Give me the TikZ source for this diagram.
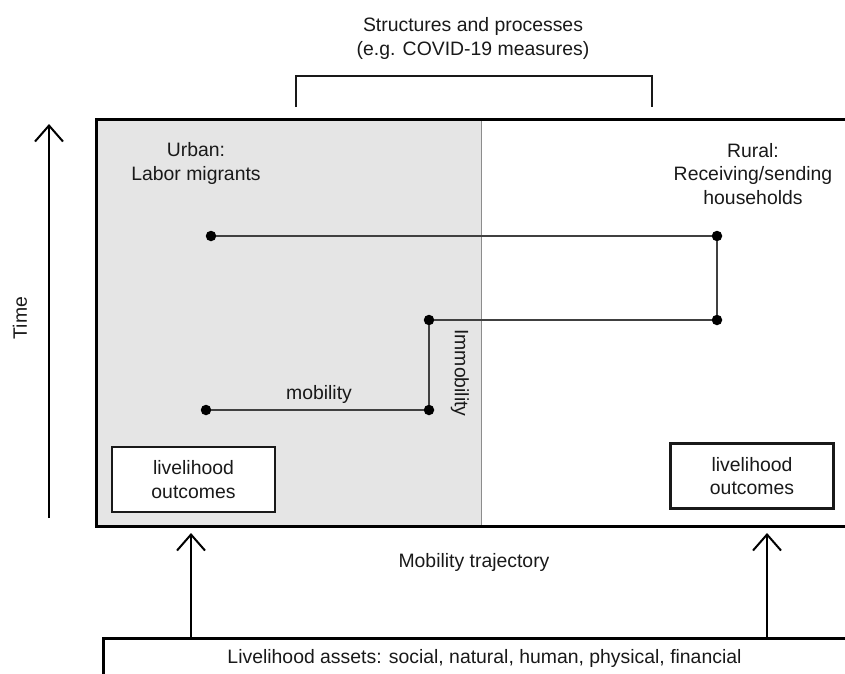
\documentclass[tikz,border=0pt]{standalone}
\usepackage{fontspec}
\setmainfont{Liberation Sans}
\usetikzlibrary{arrows.meta}
\begin{document}
\begin{tikzpicture}[x=1pt,y=-1pt,
  txt/.style={font=\fontsize{19.4}{23.5}\selectfont, text=black!90, inner sep=0pt, align=center},
  dot/.style={circle, fill=black, inner sep=0pt, minimum size=10.5pt},
  conn/.style={line width=1.6pt, draw=black!75},
  outbox/.style={txt, draw=black!90, line width=2.2pt, fill=white,
    minimum width=163pt, minimum height=65pt},
  upbarb/.style={line width=2pt, draw=black,
    -{Straight Barb[length=16pt,width=28pt,line width=2pt]}}]
\useasboundingbox (0,0) rectangle (845,673);
\clip (0,0) rectangle (845,673);

% frame with the shaded urban half and the divider
\fill[gray!20] (96,119) rectangle (481,526);
\draw[gray!90, line width=1pt] (481,119) -- (481,526);
\draw[black, line width=3pt] (96,119) rectangle (870,526);

% heading and bracket
\node[txt, anchor=base] (title1) at (473,31) {Structures and processes};
\node[txt, anchor=base] (title2) at (473,55) {(e.g. COVID-19 measures)};
\draw[black!90, line width=2pt] (296,107) -- (296,76) -- (652,76) -- (652,107);

% time axis
\coordinate (tbot) at (49,518);
\coordinate (ttop) at (49,124);
\draw[upbarb] (tbot) -- (ttop);
\node[txt, rotate=90] (time) at (20,318) {Time};

% area labels (base anchor sits on the last line)
\node[txt, anchor=base] (urban) at (196,180) {Urban:\\Labor migrants};
\node[txt, anchor=base] (rural) at (753,204) {Rural:\\Receiving/sending\\households};

% trajectory
\node[dot] (d1) at (211,236) {};
\node[dot] (d2) at (717,236) {};
\node[dot] (d3) at (717,320) {};
\node[dot] (d4) at (429,320) {};
\node[dot] (d5) at (429,410) {};
\node[dot] (d6) at (206,410) {};
\draw[conn] (d1) -- (d2);
\draw[conn] (d2) -- (d3);
\draw[conn] (d3) -- (d4);
\draw[conn] (d4) -- (d5);
\draw[conn] (d5) -- (d6);
\node[txt, anchor=base] (mob) at (319,399) {mobility};
\node[txt, rotate=-90] (immob) at (460,373) {Immobility};

% outcomes
\node[outbox] (outL) at (193.5,479.5) {livelihood\\outcomes};
\node[outbox] (outR) at (752,476) {livelihood\\outcomes};

% assets and arrows
\node[txt, draw=black, line width=3pt, minimum width=762pt, minimum height=40pt,
  anchor=north west] (assets) at (102,637)
  {Livelihood assets: social, natural, human, physical, financial};
\node[txt] (traj) at (474,562) {Mobility trajectory};
\coordinate (tipL) at (191,533);
\coordinate (tipR) at (767,533);
\draw[upbarb] (assets.north -| tipL) -- (tipL);
\draw[upbarb] (assets.north -| tipR) -- (tipR);
\end{tikzpicture}
\end{document}
